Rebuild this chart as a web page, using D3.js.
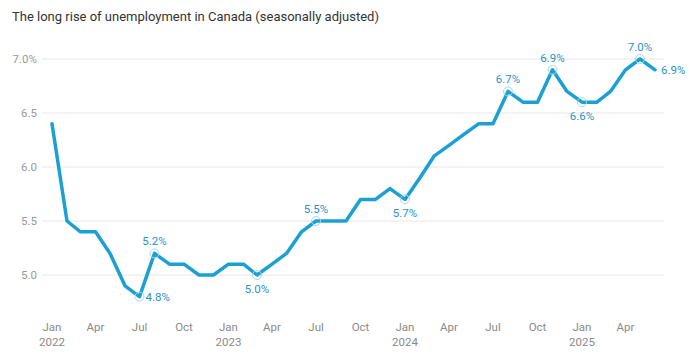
<!DOCTYPE html>
<html><head><meta charset="utf-8">
<script src="https://cdn.jsdelivr.net/npm/d3@7"></script>
<style>
body{margin:0;background:#fff;}
svg{display:block;font-family:Roboto,"Noto Sans",sans-serif;}
</style></head>
<body>
<svg id="c" width="690" height="363"></svg>
<script>
const months = ["2022-01","2022-02","2022-03","2022-04","2022-05","2022-06","2022-07","2022-08","2022-09","2022-10","2022-11","2022-12",
"2023-01","2023-02","2023-03","2023-04","2023-05","2023-06","2023-07","2023-08","2023-09","2023-10","2023-11","2023-12",
"2024-01","2024-02","2024-03","2024-04","2024-05","2024-06","2024-07","2024-08","2024-09","2024-10","2024-11","2024-12",
"2025-01","2025-02","2025-03","2025-04","2025-05","2025-06"];
const rates = [6.4,5.5,5.4,5.4,5.2,4.9,4.8,5.2,5.1,5.1,5.0,5.0,
5.1,5.1,5.0,5.1,5.2,5.4,5.5,5.5,5.5,5.7,5.7,5.8,
5.7,5.9,6.1,6.2,6.3,6.4,6.4,6.7,6.6,6.6,6.9,6.7,
6.6,6.6,6.7,6.9,7.0,6.9];
const yTicks = [5.0,5.5,6.0,6.5,7.0];
const xTickMonths = ["2022-01","2022-04","2022-07","2022-10","2023-01","2023-04","2023-07","2023-10","2024-01","2024-04","2024-07","2024-10","2025-01","2025-04"];
const annotations = [
 {m:"2022-07", pos:"right", circle:true},
 {m:"2022-08", pos:"above", circle:true},
 {m:"2023-03", pos:"below", circle:true},
 {m:"2023-07", pos:"above", circle:true},
 {m:"2024-01", pos:"below", circle:true},
 {m:"2024-08", pos:"above", circle:true},
 {m:"2024-11", pos:"above", circle:true},
 {m:"2025-01", pos:"below", circle:true},
 {m:"2025-05", pos:"above", circle:true},
 {m:"2025-06", pos:"right", circle:false}
];
const title = "The long rise of unemployment in Canada (seasonally adjusted)";

const parse = d3.timeParse("%Y-%m");
const data = months.map((m,i)=>({date:parse(m), v:rates[i], m}));
const svg = d3.select("#c");

const x = d3.scaleTime().domain([parse("2022-01"), parse("2025-06")]).range([52, 655]);
const y = d3.scaleLinear().domain([5,7]).range([275,59]);

svg.append("text").attr("x",12).attr("y",21).attr("font-size",13).attr("fill","#333")
  .text(title);

// gridlines
svg.append("g").selectAll("line").data(yTicks).join("line")
 .attr("x1",42).attr("x2",664).attr("y1",d=>y(d)).attr("y2",d=>y(d))
 .attr("stroke","#e6e6e6").attr("stroke-width",1);

svg.append("g").selectAll("text").data(yTicks).join("text")
 .attr("x",37).attr("y",d=>y(d)+4).attr("text-anchor","end")
 .attr("font-size",11.5).attr("fill","#9a9a9a")
 .text(d=>d.toFixed(1)+(d===7?"%":""));

// x labels
const xl = svg.append("g").selectAll("text").data(xTickMonths).join("text")
 .attr("x",d=>x(parse(d))).attr("y",331).attr("text-anchor","middle")
 .attr("font-size",11.5).attr("fill","#8a8a8a");
xl.append("tspan").attr("x",d=>x(parse(d))).text(d=>d3.timeFormat("%b")(parse(d)));
xl.filter(d=>d.endsWith("-01")).append("tspan").attr("x",d=>x(parse(d))).attr("dy",15).text(d=>d.slice(0,4));

// line
svg.append("path").datum(data)
 .attr("d", d3.line().x(d=>x(d.date)).y(d=>y(d.v)))
 .attr("fill","none").attr("stroke","#1ba1d1").attr("stroke-width",3.5)
 .attr("stroke-linejoin","round").attr("stroke-linecap","round");

const byM = new Map(data.map(d=>[d.m,d]));
const ag = svg.append("g");
annotations.forEach(a=>{
  const d = byM.get(a.m);
  const px = x(d.date), py = y(d.v);
  if(a.circle){
    ag.append("circle").attr("cx",px).attr("cy",py).attr("r",4.5)
      .attr("fill","none").attr("stroke","#a8d8ee").attr("stroke-width",1);
  }
  const t = ag.append("text").attr("font-size",11.5).attr("fill","#2a93c4").text(d.v.toFixed(1)+"%");
  if(a.pos==="above") t.attr("x",px).attr("y",py-8).attr("text-anchor","middle");
  else if(a.pos==="below") t.attr("x",px).attr("y",py+18).attr("text-anchor","middle");
  else t.attr("x",px+6).attr("y",py+4).attr("text-anchor","start");
});
</script>
</body></html>
